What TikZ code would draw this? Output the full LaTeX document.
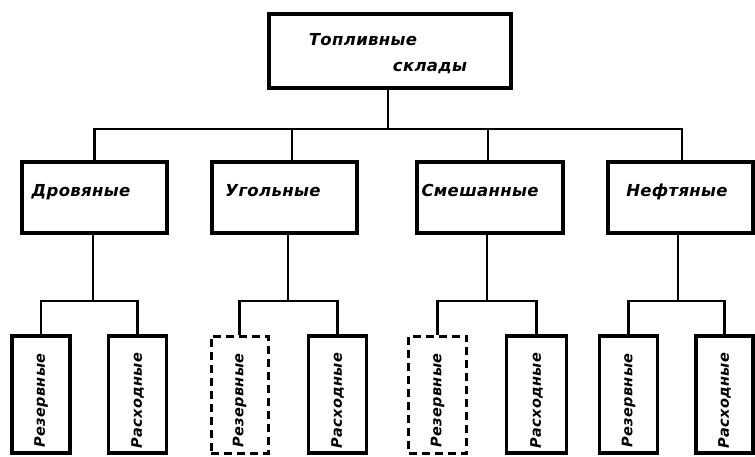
\documentclass[tikz,border=0pt]{standalone}
\usepackage{fontspec}
\newfontfamily\hand{DejaVu Sans}[LetterSpace=2]
\begin{document}
\begin{tikzpicture}[x=1pt,y=-1pt,
  box/.style={draw, line width=3.4pt, inner sep=0pt, fill=white},
  dbox/.style={box, line width=3pt, dash pattern=on 8pt off 5pt},
  conn/.style={line width=2.8pt},
  lab/.style={font=\hand\bfseries\itshape\fontsize{16.5}{19}\selectfont, inner sep=0pt},
  slab/.style={font=\hand\bfseries\itshape\fontsize{14.5}{16}\selectfont, inner sep=0pt, rotate=90}]
\useasboundingbox (0,0) rectangle (755,457);
% top
\node[box, minimum width=242pt, minimum height=74pt] (top) at (390,51) {};
\node[lab, anchor=base] (t1) at (363,46) {Топливные};
\node[lab, anchor=base] (t2) at (430,72) {склады};
% level 2
\node[box, minimum width=145pt, minimum height=71pt] (drov) at (94.5,197.5) {};
\node[box, minimum width=145pt, minimum height=71pt] (ugol) at (284.5,197.5) {};
\node[box, minimum width=146pt, minimum height=71pt] (smesh) at (490,197.5) {};
\node[box, minimum width=145pt, minimum height=71pt] (neft) at (680.5,197.5) {};
\node[lab, anchor=base] (ld) at (81,197) {Дровяные};
\node[lab, anchor=base] (lu) at (273,197) {Угольные};
\node[lab, anchor=base] (ls) at (480,197) {Смешанные};
\node[lab, anchor=base] (ln) at (677,197) {Нефтяные};
% level 3
\node[box, minimum width=58pt, minimum height=117pt] (r1) at (41,394.5) {};
\node[box, minimum width=58pt, minimum height=117pt] (x1) at (137.5,394.5) {};
\node[dbox, minimum width=57pt, minimum height=117pt] (r2) at (239.5,394.5) {};
\node[box, minimum width=58pt, minimum height=117pt] (x2) at (337.5,394.5) {};
\node[dbox, minimum width=58pt, minimum height=117pt] (r3) at (437.5,394.5) {};
\node[box, minimum width=60pt, minimum height=117pt] (x3) at (536.5,394.5) {};
\node[box, minimum width=58pt, minimum height=117pt] (r4) at (628.5,394.5) {};
\node[box, minimum width=57pt, minimum height=117pt] (x4) at (724.5,394.5) {};
\foreach \n/\t in {r1/Резервные, x1/Расходные, r2/Резервные, x2/Расходные, r3/Резервные, x3/Расходные, r4/Резервные, x4/Расходные}
  \node[slab] (l\n) at ([yshift=-6pt]\n.center) {\t};
% connectors
\coordinate (bus) at (388,129);
\coordinate (us) at (292,129);
\draw[conn] (top.south -| bus) -- (bus);
\draw[conn] (drov.north) |- (bus);
\draw[conn] (smesh.north -| 488,0) |- (bus);
\draw[conn] (neft.north -| 682,0) |- (bus);
\draw[conn] (ugol.north -| us) -- (us);
\coordinate (bd) at (93,301);
\coordinate (bu) at (288,301);
\coordinate (bs) at (487,301);
\coordinate (bn) at (678,301);
\draw[conn] (drov.south -| bd) -- (bd);
\draw[conn] (ugol.south -| bu) -- (bu);
\draw[conn] (smesh.south -| bs) -- (bs);
\draw[conn] (neft.south -| bn) -- (bn);
\draw[conn] (r1.north) |- (bd) -| (x1.north);
\draw[conn] (r2.north) |- (bu) -| (x2.north);
\draw[conn] (r3.north) |- (bs) -| (x3.north);
\draw[conn] (r4.north) |- (bn) -| (x4.north);
\end{tikzpicture}
\end{document}
